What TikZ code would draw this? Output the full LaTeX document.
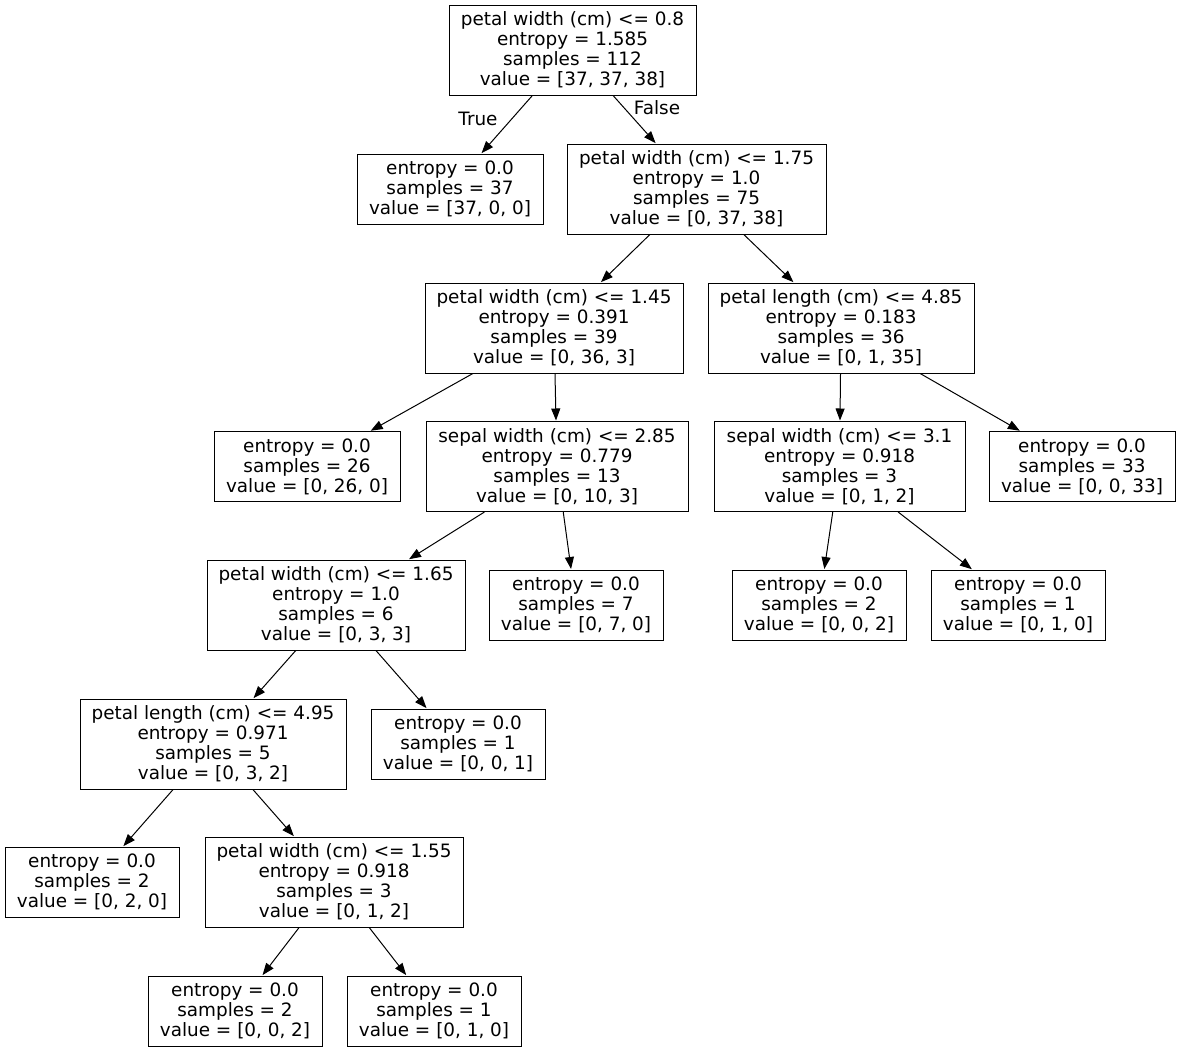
\documentclass[tikz,border=0pt]{standalone}
\usepackage{fontspec}
\setmainfont{DejaVu Sans}
\usetikzlibrary{arrows.meta}
\begin{document}
\begin{tikzpicture}[x=1pt,y=-1pt,
  font=\fontsize{18.4}{20}\selectfont,
  box/.style={draw, line width=1pt, align=center, inner sep=0pt, minimum height=90pt},
  leaf/.style={draw, line width=1pt, align=center, inner sep=0pt, minimum height=70pt},
  edge/.style={line width=1pt, -{Triangle[length=12pt,width=9pt]}, shorten >=0.5pt},
  lbl/.style={inner sep=0pt}]
\useasboundingbox[fill=white] (0,0) rectangle (1181,1052);
\node[box, minimum width=247pt] (n1) at (572.5,50) {petal width (cm) <= 0.8\\entropy = 1.585\\samples = 112\\value = [37, 37, 38]};
\node[leaf, minimum width=186pt] (n2) at (450,189) {entropy = 0.0\\samples = 37\\value = [37, 0, 0]};
\node[box, minimum width=259pt] (n3) at (696.5,189) {petal width (cm) <= 1.75\\entropy = 1.0\\samples = 75\\value = [0, 37, 38]};
\node[box, minimum width=258pt] (n4) at (554,328) {petal width (cm) <= 1.45\\entropy = 0.391\\samples = 39\\value = [0, 36, 3]};
\node[box, minimum width=266pt] (n5) at (841,328) {petal length (cm) <= 4.85\\entropy = 0.183\\samples = 36\\value = [0, 1, 35]};
\node[leaf, minimum width=186pt] (n6) at (307,466.5) {entropy = 0.0\\samples = 26\\value = [0, 26, 0]};
\node[box, minimum width=262pt] (n7) at (557,466.5) {sepal width (cm) <= 2.85\\entropy = 0.779\\samples = 13\\value = [0, 10, 3]};
\node[box, minimum width=251pt] (n8) at (839.5,466.5) {sepal width (cm) <= 3.1\\entropy = 0.918\\samples = 3\\value = [0, 1, 2]};
\node[leaf, minimum width=186pt] (n9) at (1082,466.5) {entropy = 0.0\\samples = 33\\value = [0, 0, 33]};
\node[box, minimum width=258pt] (n10) at (336,605) {petal width (cm) <= 1.65\\entropy = 1.0\\samples = 6\\value = [0, 3, 3]};
\node[leaf, minimum width=174pt] (n11) at (576,605) {entropy = 0.0\\samples = 7\\value = [0, 7, 0]};
\node[leaf, minimum width=174pt] (n12) at (819,605) {entropy = 0.0\\samples = 2\\value = [0, 0, 2]};
\node[leaf, minimum width=174pt] (n13) at (1018,605) {entropy = 0.0\\samples = 1\\value = [0, 1, 0]};
\node[box, minimum width=266pt] (n14) at (213,744) {petal length (cm) <= 4.95\\entropy = 0.971\\samples = 5\\value = [0, 3, 2]};
\node[leaf, minimum width=174pt] (n15) at (458,744) {entropy = 0.0\\samples = 1\\value = [0, 0, 1]};
\node[leaf, minimum width=174pt] (n16) at (92,882) {entropy = 0.0\\samples = 2\\value = [0, 2, 0]};
\node[box, minimum width=258pt] (n17) at (334,882) {petal width (cm) <= 1.55\\entropy = 0.918\\samples = 3\\value = [0, 1, 2]};
\node[leaf, minimum width=174pt] (n18) at (235,1011) {entropy = 0.0\\samples = 2\\value = [0, 0, 2]};
\node[leaf, minimum width=174pt] (n19) at (434,1011) {entropy = 0.0\\samples = 1\\value = [0, 1, 0]};
\draw[edge] (n1) -- (n2);
\draw[edge] (n1) -- (n3);
\draw[edge] (n3) -- (n4);
\draw[edge] (n3) -- (n5);
\draw[edge] (n4) -- (n6);
\draw[edge] (n4) -- (n7);
\draw[edge] (n5) -- (n8);
\draw[edge] (n5) -- (n9);
\draw[edge] (n7) -- (n10);
\draw[edge] (n7) -- (n11);
\draw[edge] (n8) -- (n12);
\draw[edge] (n8) -- (n13);
\draw[edge] (n10) -- (n14);
\draw[edge] (n10) -- (n15);
\draw[edge] (n14) -- (n16);
\draw[edge] (n14) -- (n17);
\draw[edge] (n17) -- (n18);
\draw[edge] (n17) -- (n19);
\node[lbl] (tl) at (478,119) {True};
\node[lbl] (fl) at (657,108) {False};
\end{tikzpicture}
\end{document}
